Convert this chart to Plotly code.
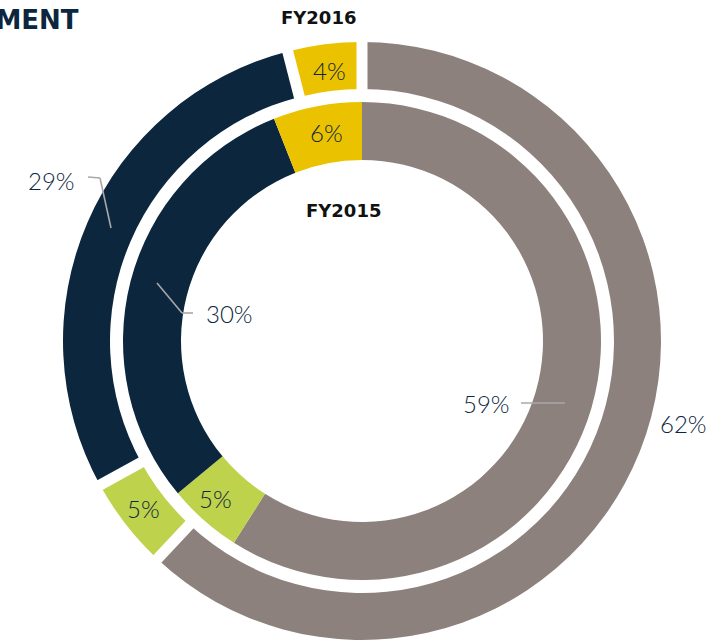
import plotly.graph_objects as go
import math

categories = ["Gray", "Green", "Navy", "Yellow"]
fy2016 = [62, 5, 29, 4]
fy2015 = [59, 5, 30, 6]
colors = ["#8c817d", "#bed24b", "#0b263d", "#ebc200"]

W, H = 723, 640
CX, CY = 362, 341          # pixel center of the rings (from top)
R_OUT, HOLE_OUT = 299, 252 / 299
R_IN, HOLE_IN = 239, 181 / 239

def dom(r):
    return dict(x=[(CX - r) / W, (CX + r) / W],
                y=[(H - CY - r) / H, (H - CY + r) / H])

fig = go.Figure()
fig.add_trace(go.Pie(labels=categories, values=fy2016, hole=HOLE_OUT, sort=False,
                     direction="clockwise", rotation=0, domain=dom(R_OUT),
                     marker=dict(colors=colors, line=dict(width=0)),
                     textinfo="none", hoverinfo="label+percent", showlegend=False))
fig.add_trace(go.Pie(labels=categories, values=fy2015, hole=HOLE_IN, sort=False,
                     direction="clockwise", rotation=0, domain=dom(R_IN),
                     marker=dict(colors=colors, line=dict(width=0)),
                     textinfo="none", hoverinfo="label+percent", showlegend=False))

shapes = []
# white gaps between outer-ring slices, at the slice boundaries
cum = 0
tot = sum(fy2016)
for v in fy2016:
    a = cum / tot * 2 * math.pi
    x0, y0 = CX + 246 * math.sin(a), CY - 246 * math.cos(a)
    x1, y1 = CX + 310 * math.sin(a), CY - 310 * math.cos(a)
    shapes.append(dict(type="line", xref="paper", yref="paper",
                       x0=x0 / W, y0=1 - y0 / H, x1=x1 / W, y1=1 - y1 / H,
                       line=dict(color="white", width=11)))
    cum += v

def P(px, py):
    return px / W, 1 - py / H

def leader(pts):
    for (a, b), (c, d) in zip(pts[:-1], pts[1:]):
        x0, y0 = P(a, b)
        x1, y1 = P(c, d)
        shapes.append(dict(type="line", xref="paper", yref="paper",
                           x0=x0, y0=y0, x1=x1, y1=y1,
                           line=dict(color="#a8a8a8", width=1.6)))

leader([(88, 177), (100, 178), (111, 228)])
leader([(157, 283), (182, 313), (193, 313)])
leader([(521, 403), (565, 403)])

NUMF = dict(family="Lato", size=24, color="#0b263d", weight=300)
BOLDF = dict(family="DejaVu Sans", size=18, color="#111111", weight=700)

ann = []
def text(t, px, py, font, xanchor="center"):
    x, y = P(px, py)
    ann.append(dict(text=t, x=x, y=y, xref="paper", yref="paper", showarrow=False,
                    xanchor=xanchor, yanchor="middle", font=font))

text("CAPITAL DEPLOYMENT", 81, 20, dict(family="DejaVu Sans", size=26, color="#0b263d", weight=700), xanchor="right")
text("FY2016", 318, 18, BOLDF)
text("FY2015", 343, 210, BOLDF)
text(f"{fy2016[3]}%", 329, 70, NUMF)
text(f"{fy2015[3]}%", 326, 132, NUMF)
text(f"{fy2016[2]}%", 52, 180, NUMF)
text(f"{fy2015[2]}%", 230, 313, NUMF)
text(f"{fy2015[0]}%", 486, 403, NUMF)
text(f"{fy2016[0]}%", 683, 423, NUMF)
text(f"{fy2016[1]}%", 143, 508, NUMF)
text(f"{fy2015[1]}%", 215, 498, NUMF)

fig.update_layout(width=W, height=H, margin=dict(l=0, r=0, t=0, b=0),
                  paper_bgcolor="white", plot_bgcolor="white",
                  shapes=shapes, annotations=ann, showlegend=False)
fig.write_html("out.html", config={"displayModeBar": False},
               post_script="document.body.style.margin='0';document.body.style.overflow='hidden';")
